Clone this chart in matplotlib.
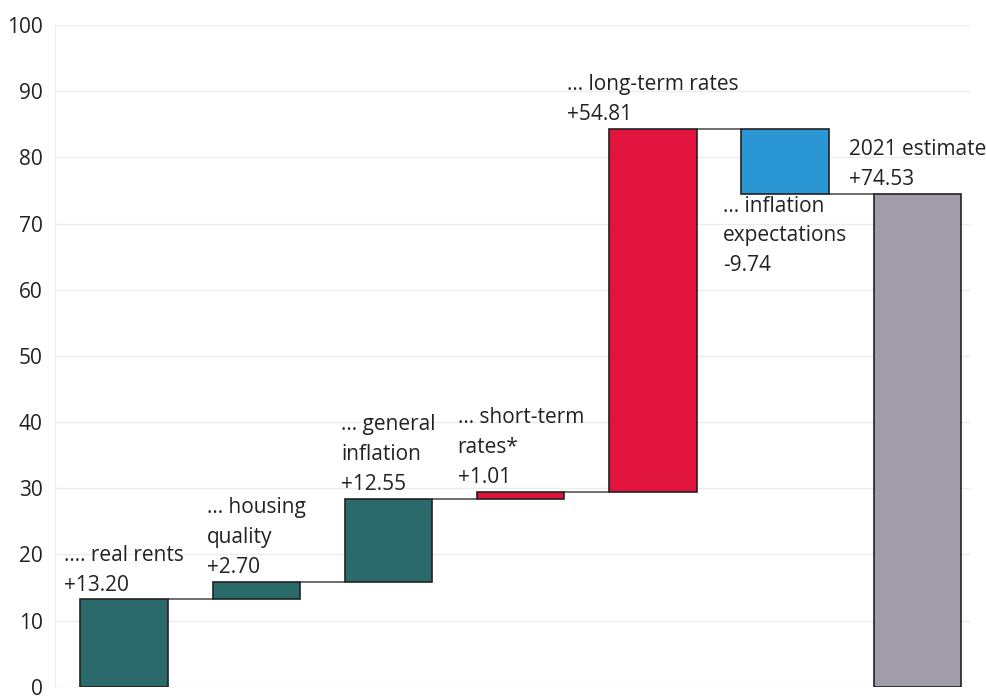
import numpy as np
import matplotlib.pyplot as plt

# waterfall components
labels = ['.... real rents\n+13.20',
          '... housing\nquality\n+2.70',
          '... general\ninflation\n+12.55',
          '... short-term\nrates*\n+1.01',
          '... long-term rates\n+54.81',
          '... inflation\nexpectations\n-9.74',
          '2021 estimate\n+74.53']
changes = [13.20, 2.70, 12.55, 1.01, 54.81, -9.74]
total = 74.53
colors = ['#2b6a6a', '#2b6a6a', '#2b6a6a', '#e0143c', '#e0143c', '#2a96d4', '#a09ca8']
yticks = [0, 10, 20, 30, 40, 50, 60, 70, 80, 90, 100]

plt.rcParams['font.family'] = ['Open Sans', 'DejaVu Sans']

cum = np.cumsum(changes)
starts = np.concatenate([[0], cum[:-1]])
bottoms = list(np.minimum(starts, cum)) + [0]
heights = list(np.abs(changes)) + [total]
x = np.arange(len(labels))
width = 0.66

fig = plt.figure(figsize=(9.86, 6.98), dpi=100)
ax = fig.add_axes([0.056, 0.016, 0.928, 0.948])

ax.bar(x, heights, width, bottom=bottoms, color=colors, edgecolor='#222222', linewidth=1.2, zorder=3)

# connectors between bars
levels = list(cum)
ax.hlines(levels, x[:-1] + width / 2, x[1:] - width / 2, color='#555555', linewidth=1.2, zorder=2)

# labels
for i, lab in enumerate(labels):
    if i < len(changes) and changes[i] < 0:
        ax.text(x[i], bottoms[i] - 0.3, lab, ha='center', va='top', multialignment='left',
                fontsize=15, color='#222222', linespacing=1.55)
    else:
        top = bottoms[i] + heights[i]
        ax.text(x[i], top + 0.6, lab, ha='center', va='bottom', multialignment='left',
                fontsize=15, color='#222222', linespacing=1.55)

ax.set_xlim(-0.52, 6.4)
ax.set_ylim(0, 100)
ax.set_yticks(yticks)
ax.set_xticks([])
ax.tick_params(axis='y', length=0, labelsize=15, pad=9, labelcolor='#222222')
ax.grid(axis='y', color='#ececec', linewidth=1, zorder=0)
for s in ['top', 'right', 'bottom']:
    ax.spines[s].set_visible(False)
ax.spines['left'].set_color('#eeeeee')

plt.savefig('out.png', dpi=100)
